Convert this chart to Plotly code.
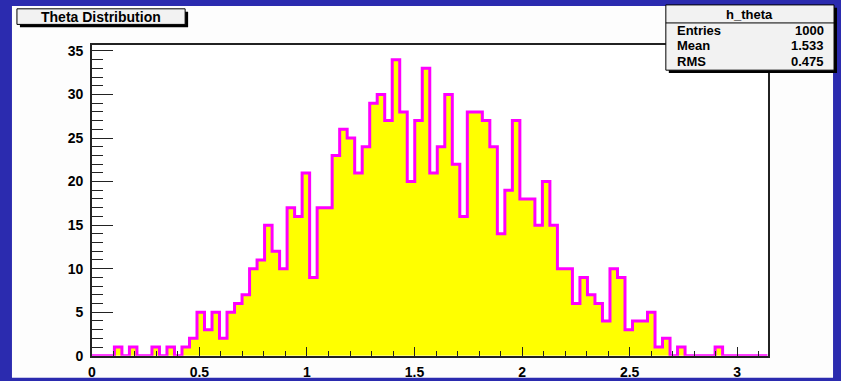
import math
import plotly.graph_objects as go

# Histogram definition: h_theta, 90 bins on [0, pi]
n_bins = 90
x_min, x_max = 0.0, math.pi
counts = [
    0, 0, 0, 1, 0, 1, 0, 0, 1, 0,
    1, 0, 1, 2, 5, 3, 5, 2, 5, 6,
    7, 10, 11, 15, 12, 10, 17, 16, 21, 9,
    17, 17, 23, 26, 25, 21, 24, 29, 30, 27,
    34, 28, 20, 27, 33, 21, 24, 30, 22, 16,
    28, 28, 27, 24, 14, 19, 27, 18, 18, 15,
    20, 15, 10, 10, 6, 9, 7, 6, 4, 10,
    9, 3, 4, 4, 5, 1, 2, 0, 1, 0,
    0, 0, 0, 1, 0, 0, 0, 0, 0, 0,
]
hist_title = "Theta Distribution"
hist_name = "h_theta"
stat_labels = ["Entries", "Mean", "RMS"]
stat_values = ["1000", "1.533", "0.475"]
x_tick_vals = [0, 0.5, 1, 1.5, 2, 2.5, 3]
x_tick_text = ["0", "0.5", "1", "1.5", "2", "2.5", "3"]
y_tick_vals = [0, 5, 10, 15, 20, 25, 30, 35]

W, H = 841, 381
bin_w = (x_max - x_min) / n_bins
edges = [x_min + i * bin_w for i in range(n_bins + 1)]
y_top = 1.05 * max(counts)


def fx(px):
    return px / W


def fy(py):
    return 1 - py / H


FONT = "Liberation Sans, Arial, Helvetica, sans-serif"
BLUE = "#2b2baf"
CANVAS = "#fdfdfd"
BOXFILL = "#f2f2f2"

fig = go.Figure()
fig.add_trace(go.Scatter(
    x=edges,
    y=counts + [counts[-1]],
    mode="lines",
    line=dict(shape="hv", color="#ff00ff", width=3),
    fill="tozeroy",
    fillcolor="#ffff00",
    hoverinfo="skip",
    showlegend=False,
))

shapes = []
# blue surround and canvas
shapes.append(dict(type="rect", xref="paper", yref="paper", x0=fx(8), x1=fx(833),
                   y0=fy(H + 5), y1=fy(4), fillcolor=CANVAS, line=dict(width=0), layer="below"))
# frame background
shapes.append(dict(type="rect", xref="paper", yref="paper", x0=fx(88.3), x1=fx(767.3),
                   y0=fy(363.3), y1=fy(44), fillcolor="white", line=dict(width=0), layer="below"))


def boxed(x0, y0, x1, y1, off=3):
    out = [
        dict(type="rect", xref="paper", yref="paper", x0=fx(x0 + off), x1=fx(x1 + off),
             y0=fy(y1 + off), y1=fy(y0 + off), fillcolor="black", line=dict(width=0)),
        dict(type="rect", xref="paper", yref="paper", x0=fx(x0), x1=fx(x1),
             y0=fy(y1), y1=fy(y0), fillcolor=BOXFILL, line=dict(color="black", width=1)),
    ]
    return out


shapes += boxed(13, 7, 182, 23)
shapes += boxed(665, 3, 834, 70)
shapes.append(dict(type="line", xref="paper", yref="paper", x0=fx(665), x1=fx(834),
                   y0=fy(21.5), y1=fy(21.5), line=dict(color="black", width=1)))

annotations = [
    dict(text=hist_title, x=fx(97.5), y=fy(15), xref="paper", yref="paper",
         showarrow=False, xanchor="center", yanchor="middle",
         font=dict(family=FONT, size=14, color="black", weight="bold")),
    dict(text=hist_name, x=fx(749.5), y=fy(12.5), xref="paper", yref="paper",
         showarrow=False, xanchor="center", yanchor="middle",
         font=dict(family=FONT, size=13, color="black", weight="bold")),
]
row_y = [29, 45, 61]
for lab, val, ry in zip(stat_labels, stat_values, row_y):
    annotations.append(dict(text=lab, x=fx(674), y=fy(ry), xref="paper", yref="paper",
                            showarrow=False, xanchor="left", yanchor="middle",
                            font=dict(family=FONT, size=13, color="black", weight="bold")))
    annotations.append(dict(text=val, x=fx(826), y=fy(ry), xref="paper", yref="paper",
                            showarrow=False, xanchor="right", yanchor="middle",
                            font=dict(family=FONT, size=13, color="black", weight="bold")))

tickfont = dict(family=FONT, size=14, color="black", weight="bold")
fig.update_layout(
    width=W, height=H,
    margin=dict(l=0, r=0, t=0, b=0),
    paper_bgcolor=BLUE,
    plot_bgcolor="rgba(0,0,0,0)",
    shapes=shapes,
    annotations=annotations,
    showlegend=False,
    xaxis=dict(
        domain=[fx(88.3), fx(767.3)],
        range=[x_min, x_max],
        tickvals=x_tick_vals, ticktext=x_tick_text,
        ticks="inside", ticklen=9, tickwidth=1, tickcolor="#222",
        minor=dict(dtick=0.1, tick0=0, ticks="inside", ticklen=5, tickwidth=1, tickcolor="#222"),
        showgrid=False, zeroline=False,
        showline=True, linecolor="#222", linewidth=1.5, mirror=True,
        tickfont=tickfont, ticklabelstandoff=3,
    ),
    yaxis=dict(
        domain=[fy(363.3), fy(44)],
        range=[0, y_top],
        tickvals=y_tick_vals,
        ticks="inside", ticklen=21, tickwidth=1, tickcolor="#222",
        minor=dict(dtick=1, tick0=0, ticks="inside", ticklen=11, tickwidth=1, tickcolor="#222"),
        showgrid=False, zeroline=False,
        showline=True, linecolor="#222", linewidth=1.5, mirror=True,
        tickfont=tickfont, ticklabelstandoff=4,
    ),
)

fig.write_html("out.html")
